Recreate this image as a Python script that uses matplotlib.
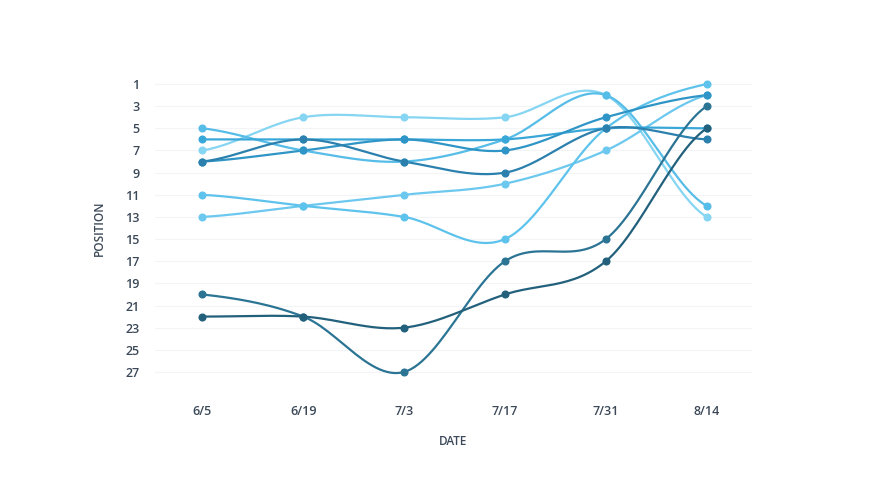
import numpy as np
import matplotlib.pyplot as plt

# Data
dates = ['6/5', '6/19', '7/3', '7/17', '7/31', '8/14']
s1 = [7, 4, 4, 4, 2, 13]
s2 = [5, 7, 8, 6, 2, 12]
s3 = [6, 6, 6, 6, 5, 5]
s4 = [8, 6, 8, 9, 5, 6]
s5 = [8, 7, 6, 7, 4, 2]
s6 = [11, 12, 13, 15, 5, 1]
s7 = [13, 12, 11, 10, 7, 2]
s8 = [20, 22, 27, 17, 15, 3]
s9 = [22, 22, 23, 20, 17, 5]
position_ticks = list(range(1, 28, 2))

series = [s1, s2, s7, s6, s3, s5, s4, s8, s9]
colors = ['#86d5f2', '#56bce8', '#6cc8ee', '#5ec3ec', '#3aa7d9',
          '#2f95c6', '#2b80ad', '#2b7494', '#22607c']


def catmull_rom(x, y, steps=30):
    # smooth curve through the points (drawing only)
    x = np.asarray(x, float)
    y = np.asarray(y, float)
    px = np.concatenate([[2 * x[0] - x[1]], x, [2 * x[-1] - x[-2]]])
    py = np.concatenate([[y[0]], y, [y[-1]]])
    xs, ys = [], []
    for i in range(1, len(px) - 2):
        t = np.linspace(0, 1, steps)
        t2, t3 = t * t, t * t * t
        for p, out in ((px, xs), (py, ys)):
            p0, p1, p2, p3 = p[i - 1], p[i], p[i + 1], p[i + 2]
            out.extend(0.5 * ((2 * p1) + (-p0 + p2) * t +
                              (2 * p0 - 5 * p1 + 4 * p2 - p3) * t2 +
                              (-p0 + 3 * p1 - 3 * p2 + p3) * t3))
    return np.array(xs), np.array(ys)


fig = plt.figure(figsize=(8.88, 4.8), dpi=100)
ax = fig.add_axes([0.1745, 0.202, 0.6725, 0.646])

xi = np.arange(len(dates))
for vals, c in zip(series, colors):
    cx, cy = catmull_rom(xi, vals)
    ax.plot(cx, cy, color=c, lw=1.6, solid_capstyle='round', zorder=3)
    ax.plot(xi, vals, 'o', color=c, ms=4.8, zorder=4)

ax.set_xlim(-0.47, 5.45)
ax.set_ylim(28, 0)
ax.set_xticks(xi)
ax.set_xticklabels(dates)
ax.set_yticks(position_ticks)

for y in position_ticks:
    ax.axhline(y, color='#f3f4f6', lw=0.8, zorder=0)

for s in ax.spines.values():
    s.set_visible(False)
ax.tick_params(length=0, labelsize=9, labelcolor='#3b4858')
ax.tick_params(axis='x', pad=16)
ax.tick_params(axis='y', pad=11)
for lab in ax.get_xticklabels() + ax.get_yticklabels():
    lab.set_fontfamily('Open Sans')
    lab.set_fontweight('semibold')

ax.set_xlabel('DATE', fontsize=8.5, color='#3b4858', family='Open Sans',
              fontweight='semibold', labelpad=12)
ax.set_ylabel('POSITION', fontsize=8.5, color='#3b4858', family='Open Sans',
              fontweight='semibold', labelpad=14)

plt.savefig('out.png', dpi=100, facecolor='white')
